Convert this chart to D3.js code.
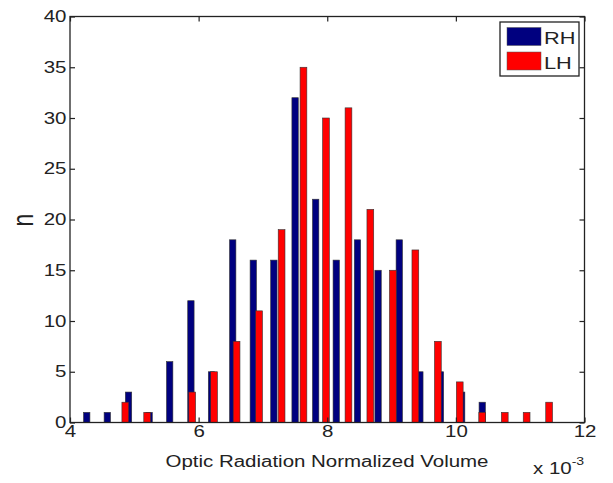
<!DOCTYPE html>
<html>
<head>
<meta charset="utf-8">
<script src="https://cdn.jsdelivr.net/npm/d3@7"></script>
<style>
body { margin: 0; background: #fff; }
text { font-family: "Liberation Sans", Arial, sans-serif; fill: #222; }
</style>
</head>
<body>
<script>
// bin centres (x 1e-3) and counts
let rhCenters = [4.26, 4.58, 4.91, 5.23, 5.55, 5.88, 6.20, 6.53, 6.85, 7.17,
                 7.50, 7.82, 8.14, 8.47, 8.79, 9.12, 9.44, 9.76, 10.09, 10.41];
let rhCounts = [1, 1, 3, 1, 6, 12, 5, 18, 16, 16, 32, 22, 16, 18, 15, 18, 5, 5, 3, 2];

let lhCenters = [4.86, 5.20, 5.55, 5.90, 6.24, 6.59, 6.94, 7.29, 7.63, 7.98,
                 8.33, 8.67, 9.02, 9.37, 9.72, 10.06, 10.41, 10.76, 11.10, 11.45];
let lhCounts = [2, 1, 0, 3, 5, 8, 11, 19, 35, 30, 31, 21, 15, 17, 8, 4, 1, 1, 1, 2];

let seriesNames = ["RH", "LH"];
let xTicks = [4, 6, 8, 10, 12];
let yTicks = [0, 5, 10, 15, 20, 25, 30, 35, 40];

function main() {
    let width = 613, height = 483;
    let left = 70, right = 584.5, top = 16.5, bottom = 422.5;
    let stretch = "scale(1.28,1)";   // text in the figure is wider than normal

    let svg = d3.select("body").append("svg")
        .attr("width", width)
        .attr("height", height);

    let x = d3.scaleLinear().domain([4, 12]).range([left, right]);
    let y = d3.scaleLinear().domain([0, 40]).range([bottom, top]);
    let color = d3.scaleOrdinal().domain(seriesNames).range(["#00007f", "#ff0000"]);

    let series = [
        {name: "RH", bins: rhCenters.map((c, i) => ({c: c, n: rhCounts[i]})), centers: rhCenters},
        {name: "LH", bins: lhCenters.map((c, i) => ({c: c, n: lhCounts[i]})), centers: lhCenters}
    ];

    // bars, RH first so LH sits on top where they overlap
    series.forEach(s => {
        let w = 0.31 * (x(s.centers[1]) - x(s.centers[0]));
        svg.append("g").selectAll("rect")
            .data(s.bins.filter(d => d.n > 0))
            .enter()
            .append("rect")
            .attr("x", d => x(d.c) - w / 2)
            .attr("y", d => y(d.n))
            .attr("width", w)
            .attr("height", d => y(0) - y(d.n))
            .attr("fill", color(s.name))
            .attr("stroke", "#333")
            .attr("stroke-width", 0.6);
    });

    // axes, ticks pointing inward
    let xAxis = svg.append("g")
        .attr("transform", "translate(0," + bottom + ")")
        .call(d3.axisBottom(x).tickValues(xTicks).tickSizeInner(-5).tickSizeOuter(0).tickPadding(3));
    let yAxis = svg.append("g")
        .attr("transform", "translate(" + left + ",0)")
        .call(d3.axisLeft(y).tickValues(yTicks).tickSizeInner(-5).tickSizeOuter(0).tickPadding(2.8));
    svg.append("g")
        .attr("transform", "translate(0," + top + ")")
        .call(d3.axisTop(x).tickValues(xTicks).tickSizeInner(-5).tickSizeOuter(0).tickFormat(""));
    svg.append("g")
        .attr("transform", "translate(" + right + ",0)")
        .call(d3.axisRight(y).tickValues(yTicks).tickSizeInner(-5).tickSizeOuter(0).tickFormat(""));

    svg.selectAll(".domain").remove();
    svg.selectAll(".tick line").attr("stroke", "#222").attr("stroke-width", 1.2);
    [xAxis, yAxis].forEach(a => a.selectAll("text")
        .attr("font-size", 16)
        .attr("font-family", null)
        .attr("fill", "#222")
        .attr("transform", stretch));

    svg.append("rect")
        .attr("x", left).attr("y", top)
        .attr("width", right - left).attr("height", bottom - top)
        .attr("fill", "none")
        .attr("stroke", "#222")
        .attr("stroke-width", 1.3);

    // axis labels
    svg.append("text")
        .attr("transform", "translate(327,467) " + stretch)
        .attr("text-anchor", "middle")
        .attr("font-size", 16)
        .text("Optic Radiation Normalized Volume");

    svg.append("text")
        .attr("transform", "translate(33,220) rotate(-90) scale(1,1.28)")
        .attr("text-anchor", "middle")
        .attr("font-size", 23)
        .text("n");

    let mult = svg.append("text")
        .attr("transform", "translate(533,474) " + stretch)
        .attr("font-size", 16);
    mult.append("tspan").text("x 10");
    mult.append("tspan").attr("dy", -9).attr("font-size", 11).text("-3");

    // legend
    let lg = svg.append("g").attr("transform", "translate(500,22)");
    lg.append("rect")
        .attr("width", 79).attr("height", 54)
        .attr("fill", "#fff")
        .attr("stroke", "#222")
        .attr("stroke-width", 1.3);
    seriesNames.forEach((name, i) => {
        lg.append("rect")
            .attr("x", 7).attr("y", 5.5 + i * 24.5)
            .attr("width", 34).attr("height", 18)
            .attr("fill", color(name))
            .attr("stroke", "#555")
            .attr("stroke-width", 0.5);
        lg.append("text")
            .attr("transform", "translate(44," + (22 + i * 24.5) + ") " + stretch)
            .attr("font-size", 17)
            .text(name);
    });
}

main();
</script>
</body>
</html>
